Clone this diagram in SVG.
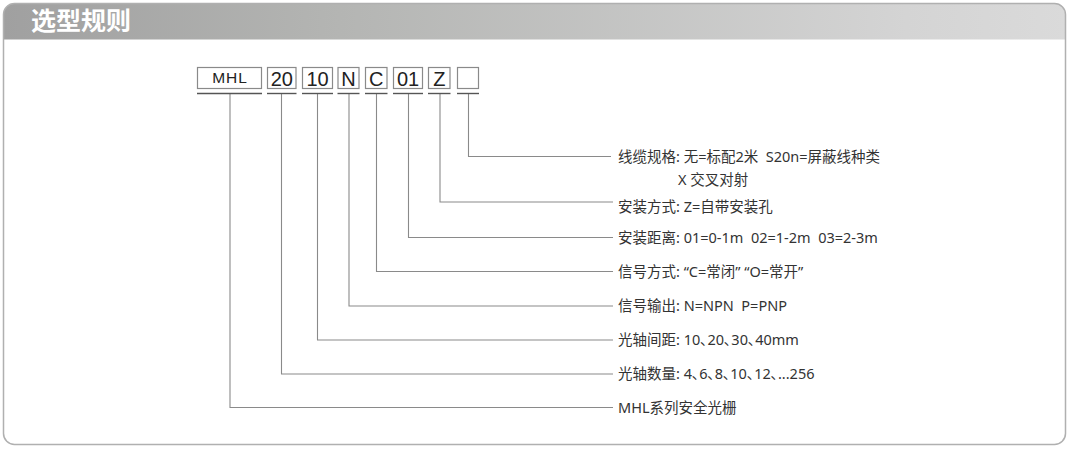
<svg xmlns="http://www.w3.org/2000/svg" width="1070" height="449" viewBox="0 0 1070 449">
<defs>
<linearGradient id="hdr" x1="0" y1="0" x2="1" y2="0">
<stop offset="0" stop-color="#a0a0a0"/>
<stop offset="0.3" stop-color="#b3b4b2"/>
<stop offset="0.85" stop-color="#d4d4d4"/>
<stop offset="1" stop-color="#dadada"/>
</linearGradient>
<clipPath id="frameClip"><rect x="3.5" y="3.5" width="1062" height="441" rx="11"/></clipPath>
</defs>
<style>
.box{fill:#fff;stroke:#8a8a8a;stroke-width:1.2}
.ul{stroke:#555;stroke-width:1.4}
.code{font-family:"Liberation Sans",Arial,sans-serif;font-size:20px;fill:#222;text-anchor:middle}
.mhl{font-size:15.5px;letter-spacing:1px;font-weight:500}
.conn{fill:none;stroke:#8a8a8a;stroke-width:1.1}
.lbl{font-family:"Noto Sans","Noto Sans CJK SC",sans-serif;font-size:14.5px;fill:#333;white-space:pre}
</style>
<rect x="0" y="0" width="1070" height="449" fill="#fff"/>
<g id="frame">
<rect x="3.5" y="3.5" width="1062" height="36" fill="url(#hdr)" clip-path="url(#frameClip)"/>
<rect x="3.5" y="3.5" width="1062" height="441" rx="11" fill="none" stroke="#b0b0b0" stroke-width="1.5"/>
<text x="31" y="30" font-family="Noto Sans CJK SC,sans-serif" font-size="25" font-weight="bold" fill="#fff">选型规则</text>
</g>
<g id="connectors">
<polyline class="conn" points="230,94 230,407.5 613,407.5"/>
<polyline class="conn" points="281.5,94 281.5,374 613,374"/>
<polyline class="conn" points="317.5,94 317.5,340 613,340"/>
<polyline class="conn" points="349,94 349,306 613,306"/>
<polyline class="conn" points="376.5,94 376.5,271.5 613,271.5"/>
<polyline class="conn" points="408.5,94 408.5,237.5 613,237.5"/>
<polyline class="conn" points="440,94 440,202 613,202"/>
<polyline class="conn" points="468.5,94 468.5,156.5 611,156.5"/>
</g>
<g id="box-MHL"><rect class="box" x="197.5" y="67.5" width="64" height="21"/><line class="ul" x1="197" y1="93.5" x2="262" y2="93.5"/><text class="code mhl" x="230" y="83">MHL</text></g>
<g id="box-20"><rect class="box" x="267.5" y="67.5" width="28.5" height="21"/><line class="ul" x1="267" y1="93.5" x2="296.5" y2="93.5"/><text class="code" x="281.8" y="85.5">20</text></g>
<g id="box-10"><rect class="box" x="302.5" y="67.5" width="30" height="21"/><line class="ul" x1="302" y1="93.5" x2="333" y2="93.5"/><text class="code" x="317.5" y="85.5">10</text></g>
<g id="box-N"><rect class="box" x="338" y="67.5" width="21" height="21"/><line class="ul" x1="337.5" y1="93.5" x2="359.5" y2="93.5"/><text class="code" x="348.5" y="85.5">N</text></g>
<g id="box-C"><rect class="box" x="365.5" y="67.5" width="21.5" height="21"/><line class="ul" x1="365" y1="93.5" x2="387.5" y2="93.5"/><text class="code" x="376.3" y="85.5">C</text></g>
<g id="box-01"><rect class="box" x="393.5" y="67.5" width="29" height="21"/><line class="ul" x1="393" y1="93.5" x2="423" y2="93.5"/><text class="code" x="408" y="85.5">01</text></g>
<g id="box-Z"><rect class="box" x="428.5" y="67.5" width="21.5" height="21"/><line class="ul" x1="428" y1="93.5" x2="450.5" y2="93.5"/><text class="code" x="439.3" y="85.5">Z</text></g>
<g id="box-blank"><rect class="box" x="457.5" y="67.5" width="21" height="21"/><line class="ul" x1="457" y1="93.5" x2="479" y2="93.5"/></g>
<g id="label-cable"><text class="lbl" x="618" y="162">线缆规格: 无=标配2米  S20n=屏蔽线种类</text><text class="lbl" x="678" y="185">X 交叉对射</text></g>
<g id="label-mount"><text class="lbl" x="618" y="212">安装方式: Z=自带安装孔</text></g>
<g id="label-distance"><text class="lbl" x="618" y="243">安装距离: 01=0-1m  02=1-2m  03=2-3m</text></g>
<g id="label-signal-mode"><text class="lbl" x="618" y="277">信号方式: “C=常闭” “O=常开”</text></g>
<g id="label-output"><text class="lbl" x="618" y="311">信号输出: N=NPN  P=PNP</text></g>
<g id="label-pitch"><text class="lbl" x="618" y="345">光轴间距: 10､20､30､40mm</text></g>
<g id="label-count"><text class="lbl" x="618" y="379">光轴数量: 4､6､8､10､12､...256</text></g>
<g id="label-series"><text class="lbl" x="618" y="413">MHL系列安全光栅</text></g>
</svg>
